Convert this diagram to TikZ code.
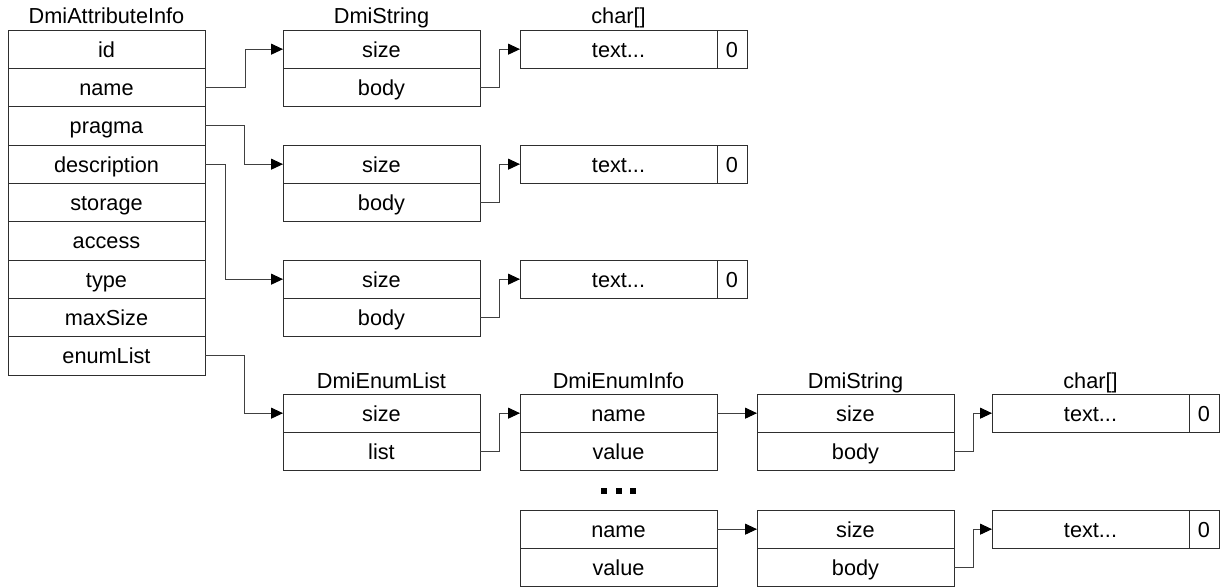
\documentclass[tikz,border=0pt]{standalone}
\usepackage{fontspec}
\setmainfont{Liberation Sans}
\usetikzlibrary{arrows.meta}
\definecolor{boxc}{HTML}{2E2E2E}
\definecolor{linec}{HTML}{404040}
\tikzset{
  cell/.style={draw=boxc, line width=1pt, minimum width=197pt, minimum height=38.33pt,
    inner sep=0pt, outer sep=0pt, anchor=north west, font=\fontsize{21.7}{25}\selectfont,
    text height=20pt, text depth=4pt},
  zerocell/.style={cell, minimum width=30pt},
  title/.style={anchor=base, inner sep=0pt, font=\fontsize{21.7}{25}\selectfont},
  conn/.style={draw=linec, line width=1pt, -{Triangle[length=12pt,width=11pt,color=black]}},
  dotsq/.style={fill=black}
}
\begin{document}
\begin{tikzpicture}[x=1pt,y=-1pt]
\useasboundingbox (0,0) rectangle (1221,587);
% DmiAttributeInfo
\node[title] (tA) at (106.5,23) {DmiAttributeInfo};
\node[cell] (aid)   at (8,30)     {id};
\node[cell] (aname) at (8,68.33)  {name};
\node[cell] (aprag) at (8,106.67) {pragma};
\node[cell] (adesc) at (8,145)    {description};
\node[cell] (astor) at (8,183.33) {storage};
\node[cell] (aacc)  at (8,221.67) {access};
\node[cell] (atype) at (8,260)    {type};
\node[cell] (amax)  at (8,298.33) {maxSize};
\node[cell] (aenum) at (8,336.67) {enumList};
% DmiString 1..3
\node[title] (tS) at (381.5,23) {DmiString};
\node[cell] (s1size) at (283,30)     {size};
\node[cell] (s1body) at (283,68.33)  {body};
\node[cell] (s2size) at (283,145)    {size};
\node[cell] (s2body) at (283,183.33) {body};
\node[cell] (s3size) at (283,260)    {size};
\node[cell] (s3body) at (283,298.33) {body};
% char[] 1..3
\node[title] (tC) at (618.5,23) {char[]};
\node[cell] (c1text) at (520,30)  {text...};
\node[zerocell] (c1zero) at (717,30)  {0};
\node[cell] (c2text) at (520,145) {text...};
\node[zerocell] (c2zero) at (717,145) {0};
\node[cell] (c3text) at (520,260) {text...};
\node[zerocell] (c3zero) at (717,260) {0};
% DmiEnumList
\node[title] (tEL) at (381.5,388) {DmiEnumList};
\node[cell] (elsize) at (283,394)    {size};
\node[cell] (ellist) at (283,432.33) {list};
% DmiEnumInfo
\node[title] (tEI) at (618.5,388) {DmiEnumInfo};
\node[cell] (e1name)  at (520,394)    {name};
\node[cell] (e1value) at (520,432.33) {value};
\node[cell] (e2name)  at (520,510)    {name};
\node[cell] (e2value) at (520,548.33) {value};
% DmiString 4..5
\node[title] (tS2) at (855.5,388) {DmiString};
\node[cell] (s4size) at (757,394)    {size};
\node[cell] (s4body) at (757,432.33) {body};
\node[cell] (s5size) at (757,510)    {size};
\node[cell] (s5body) at (757,548.33) {body};
% char[] 4..5
\node[title] (tC2) at (1090.5,388) {char[]};
\node[cell] (c4text) at (992,394) {text...};
\node[zerocell] (c4zero) at (1189,394) {0};
\node[cell] (c5text) at (992,510) {text...};
\node[zerocell] (c5zero) at (1189,510) {0};
% dots
\fill[dotsq] (601,488) rectangle (607,494);
\fill[dotsq] (616,488) rectangle (622,494);
\fill[dotsq] (630,488) rectangle (636,494);
% connectors
\draw[conn] (aname.east) -- ++(40,0) |- (s1size.west);
\draw[conn] (aprag.east) -- ++(39,0) |- (s2size.west);
\draw[conn] (adesc.east) -- ++(20,0) |- (s3size.west);
\draw[conn] (aenum.east) -- ++(39,0) |- (elsize.west);
\draw[conn] (s1body.east) -- ++(19.5,0) |- (c1text.west);
\draw[conn] (s2body.east) -- ++(19.5,0) |- (c2text.west);
\draw[conn] (s3body.east) -- ++(19.5,0) |- (c3text.west);
\draw[conn] (ellist.east) -- ++(19.5,0) |- (e1name.west);
\draw[conn] (e1name.east) -- (s4size.west);
\draw[conn] (e2name.east) -- (s5size.west);
\draw[conn] (s4body.east) -- ++(19.5,0) |- (c4text.west);
\draw[conn] (s5body.east) -- ++(19.5,0) |- (c5text.west);
\end{tikzpicture}
\end{document}
